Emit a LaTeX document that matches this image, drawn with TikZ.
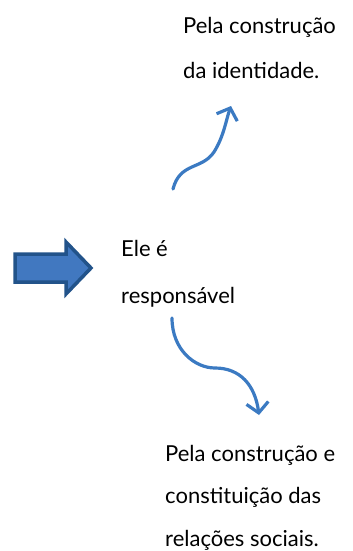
\documentclass[tikz,border=0pt]{standalone}
\usepackage{fontspec}
\setmainfont{Lato}
\usetikzlibrary{positioning}
\usetikzlibrary{arrows.meta}
\definecolor{boxblue}{HTML}{4178C0}
\definecolor{edgeblue}{HTML}{22538A}
\definecolor{curveblue}{HTML}{3B7AC2}
\tikzset{
	txt/.style={anchor=west, inner sep=0pt, font=\fontsize{22}{22}\selectfont},
	curvy/.style={curveblue, line width=3.2pt, line cap=round,
		-{Straight Barb[length=10pt, width=22pt, line width=3.2pt]}}
}

\begin{document}
\begin{tikzpicture}[x=1pt, y=-1pt]
		\useasboundingbox (0,0) rectangle (353,551);
		% big arrow on the left
		\draw[edgeblue, line width=3.5pt, fill=boxblue, line join=miter]
			(15,254) -- (66,254) -- (66,242) -- (91,268) -- (66,294) -- (66,282) -- (15,282) -- cycle;
		%
		\node[txt] (ele) at (121,248){Ele é};
		\node[txt] (resp) at (121,297){responsável};
		%
		\node[txt] (top1) at (183,27){Pela construção};
		\node[txt] (top2) at (183,70){da identidade.};
		%
		\node[txt] (bot1) at (165,455){Pela construção e};
		\node[txt] (bot2) at (165,497){constituição das};
		\node[txt] (bot3) at (165,540){relações sociais.};
		%
		\coordinate (upstart) at (173,189);
		\coordinate (upend) at (231,106);
		\coordinate (downstart) at (172,318);
		\coordinate (downend) at (259,415);
		\draw[curvy] (upstart) .. controls (180,162) and (202,170) .. (214,152)
			.. controls (224,136) and (226,120) .. (upend);
		\draw[curvy] (downstart) .. controls (172,350) and (195,368) .. (215,368)
			.. controls (240,368) and (255,385) .. (downend);
	\end{tikzpicture}
\end{document}
